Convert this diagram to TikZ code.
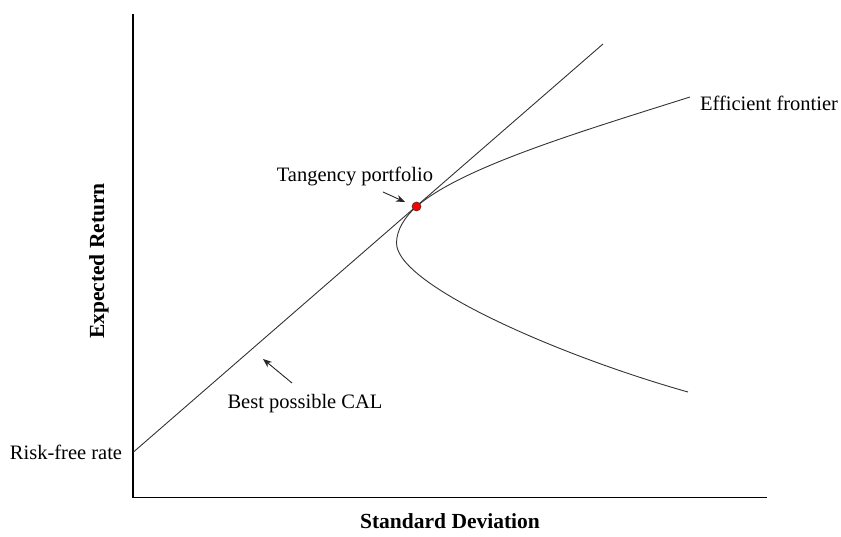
\documentclass[tikz,border=0pt]{standalone}
\usepackage{fontspec}
\setmainfont{Liberation Serif}
\usetikzlibrary{arrows.meta}
\begin{document}
\begin{tikzpicture}[x=1pt,y=-1pt,
  lbl/.style={inner sep=0pt,font=\fontsize{20.5}{24}\selectfont},
  axlbl/.style={inner sep=0pt,font=\fontsize{21.5}{25}\selectfont\bfseries},
  axisline/.style={line width=1.4pt,black},
  curveline/.style={line width=0.9pt,black!80},
  pointer/.style={line width=0.9pt,black!85,-{Stealth[length=9pt,width=7pt]}}]
\useasboundingbox (0,0) rectangle (841,537);
% axes
\coordinate (top) at (133,14);
\coordinate (orig) at (133,497.5);
\coordinate (xend) at (767,497.5);
\draw[axisline] (top) -- (orig) -- (xend);
% CAL
\coordinate (rf) at (133.5,452);
\coordinate (calend) at (603,44);
\draw[curveline] (rf) -- (calend);
% efficient frontier
\coordinate (tpc) at (416.5,206.5);
\coordinate (vtx) at (396.5,243);
\coordinate (upend) at (690,97);
\coordinate (lowend) at (688,392);
\draw[curveline] (upend) .. controls (580,131.8) and (461.8,167.2) .. (tpc)
  .. controls (405,216.5) and (396.5,230) .. (vtx)
  .. controls (396.5,285) and (560,356) .. (lowend);
% tangency point
\node[circle,fill=red,draw=black!80,line width=0.6pt,inner sep=0pt,minimum size=9pt] (tp) at (tpc) {};
% labels
\node[lbl] (tplbl) at (355,176) {Tangency portfolio};
\node[lbl] (cal) at (305,404) {Best possible CAL};
\node[lbl] (rflbl) at (66,452) {Risk-free rate};
\node[lbl] (ef) at (769,103) {Efficient frontier};
\node[axlbl] (xl) at (450,521) {Standard Deviation};
\node[axlbl,rotate=90] (yl) at (99,261) {Expected Return};
% pointers
\coordinate (a1s) at (383,192);
\coordinate (a1e) at (405,202);
\draw[pointer] (a1s) -- (a1e);
\coordinate (a2s) at (292,383);
\coordinate (a2e) at (263,359);
\draw[pointer] (a2s) -- (a2e);
\end{tikzpicture}
\end{document}
